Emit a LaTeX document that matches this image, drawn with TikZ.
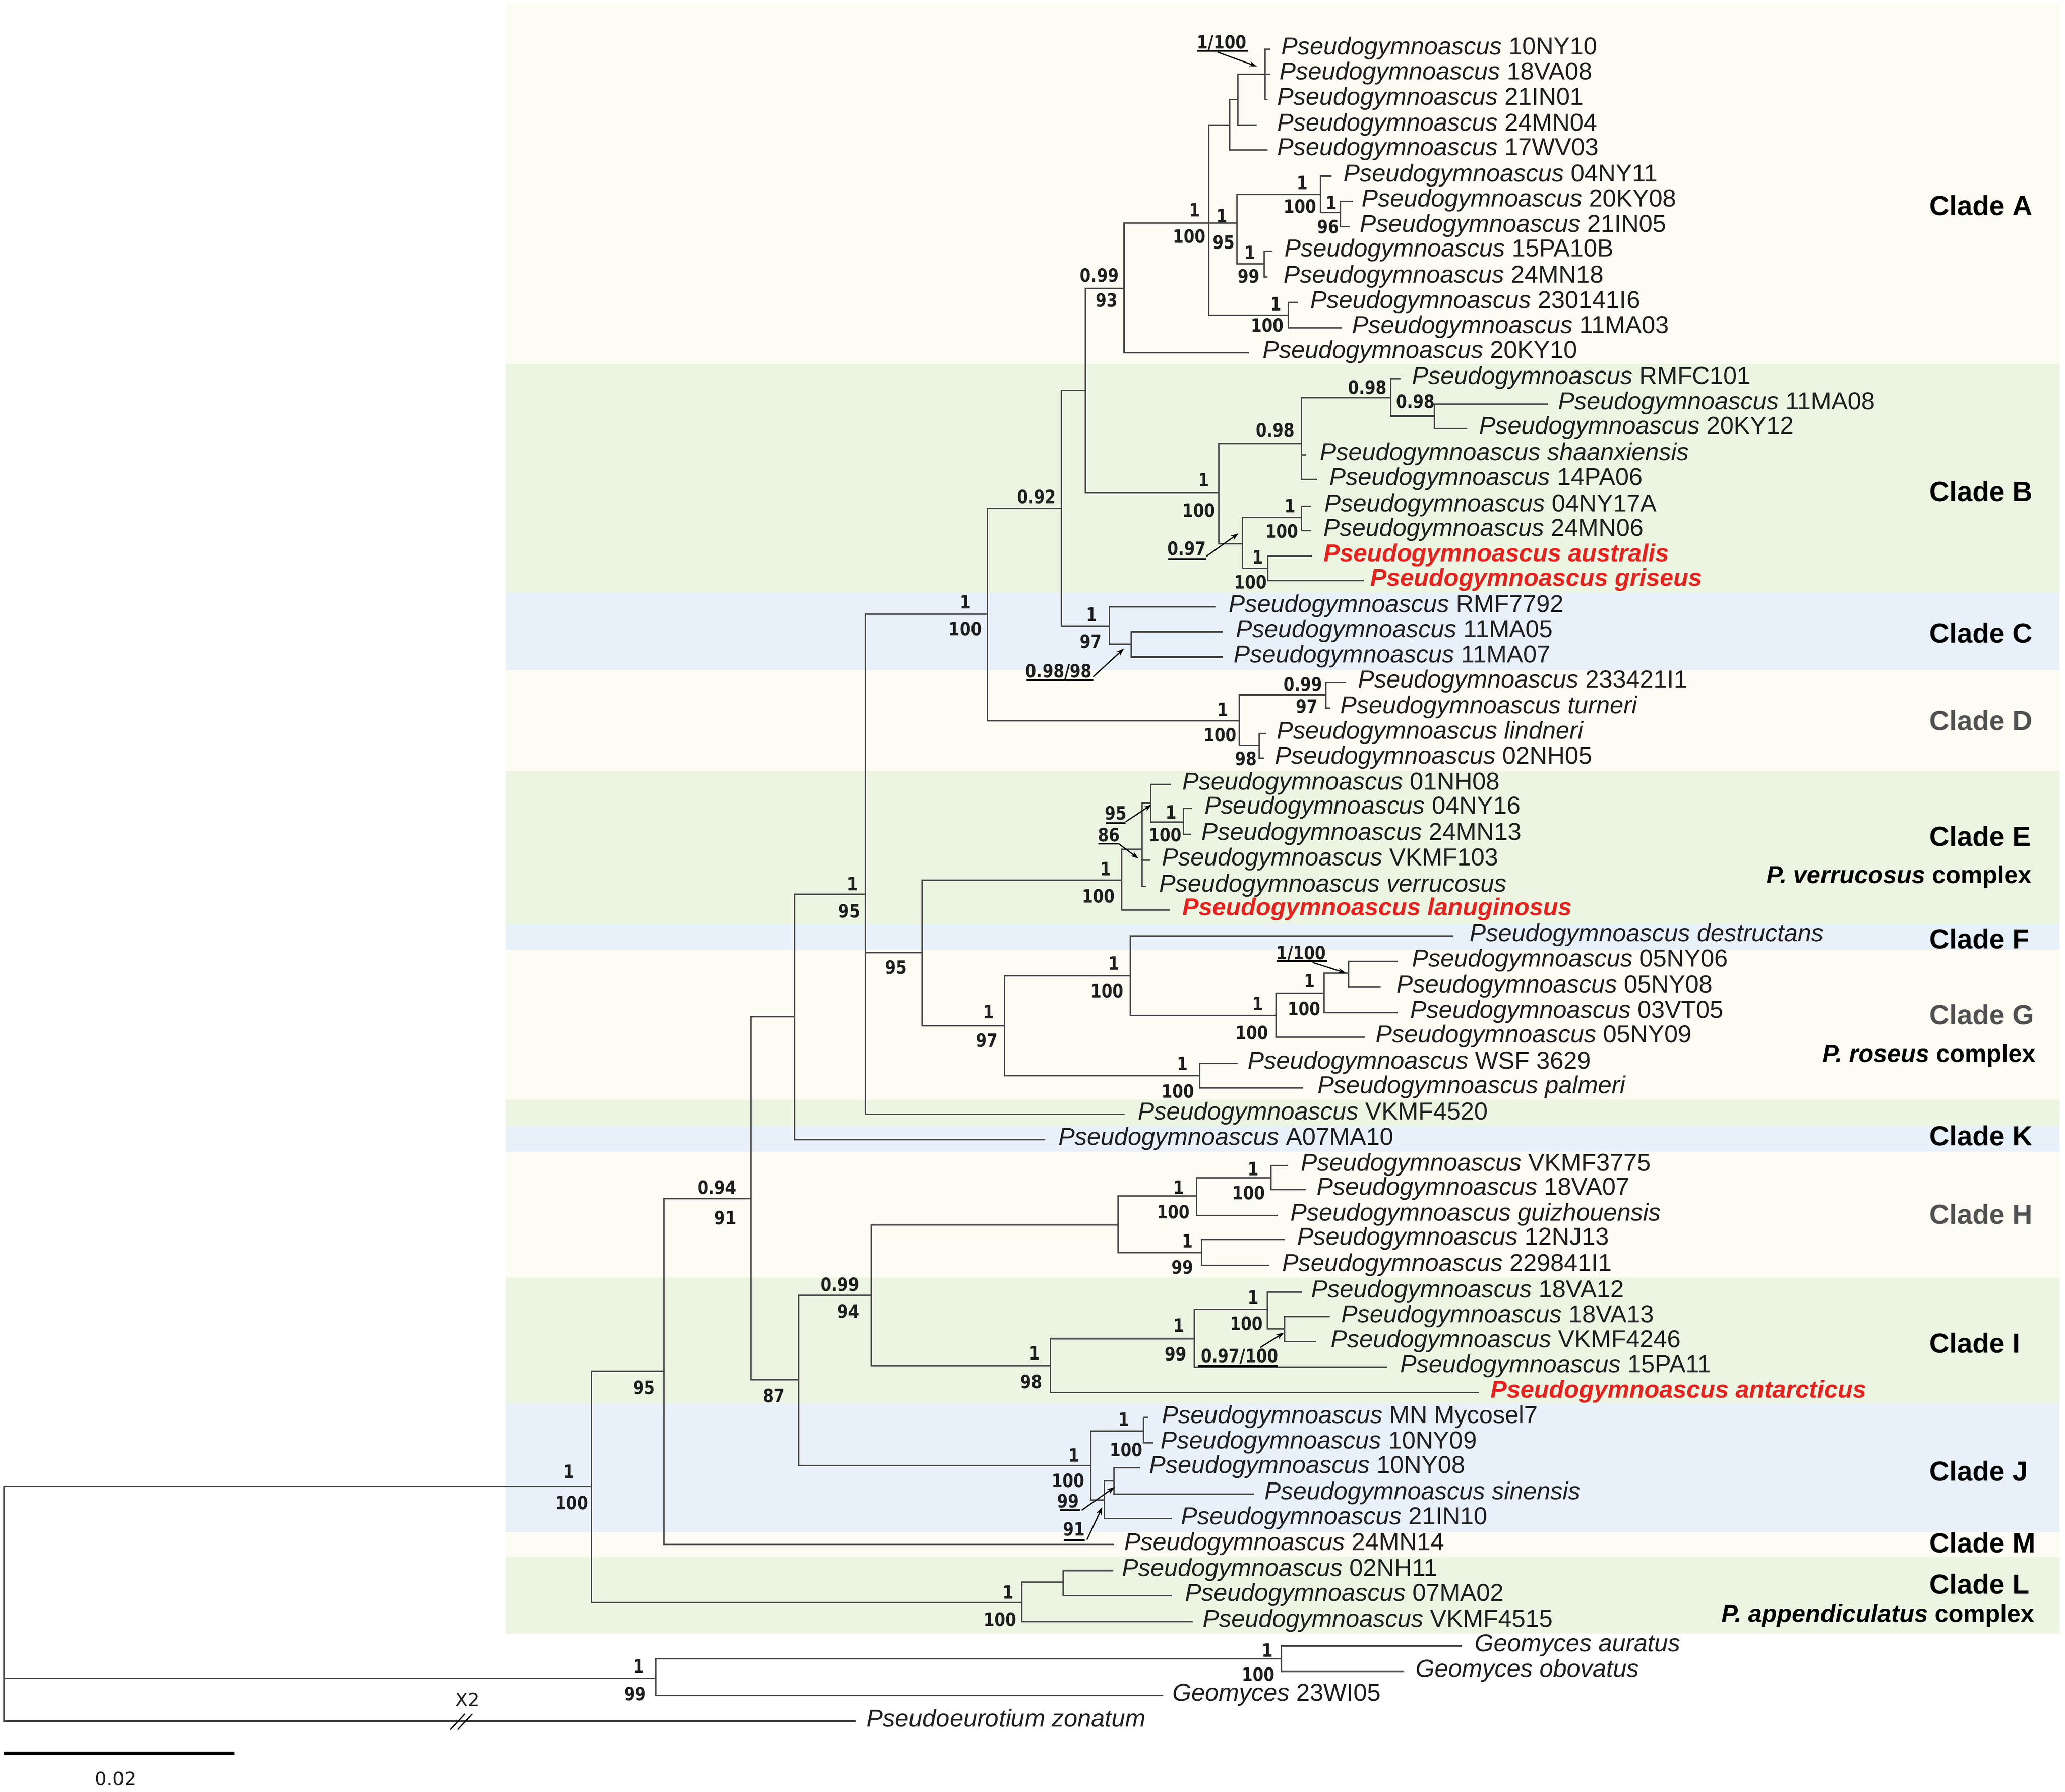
\documentclass[tikz,border=0pt]{standalone}
\usepackage{fontspec}
\setmainfont{Liberation Sans}
\newfontfamily\numfont[FakeStretch=0.85]{DejaVu Sans}
\newfontfamily\plainnum{DejaVu Sans}
\usetikzlibrary{arrows.meta}
\definecolor{bandcream}{RGB}{253,252,244}
\definecolor{bandgreen}{RGB}{236,245,226}
\definecolor{bandblue}{RGB}{232,240,250}
\definecolor{brcol}{RGB}{72,72,72}
\definecolor{txtcol}{RGB}{30,30,30}
\definecolor{newred}{RGB}{232,33,29}
\definecolor{cladegray}{RGB}{80,80,80}
\tikzset{
  br/.style={draw=brcol, line width=1.05pt},
  taxon/.style={inner sep=0pt, anchor=base west, font=\fontsize{18.6}{20}\selectfont, text=txtcol},
  newtaxon/.style={taxon, text=newred, font=\fontsize{18.6}{20}\selectfont\bfseries\itshape},
  supv/.style={inner sep=0pt, font=\numfont\bfseries\fontsize{14}{14}\selectfont, text=txtcol},
  cladelab/.style={inner sep=0pt, anchor=base west, font=\fontsize{21}{23}\selectfont\bfseries, text=black},
  complexlab/.style={inner sep=0pt, anchor=base east, font=\fontsize{18.6}{20}\selectfont\bfseries, text=black},
  uline/.style={draw=black, line width=1.3pt},
  pointer/.style={draw=black, line width=0.9pt, -{Stealth[length=6pt,width=4pt]}},
  scalebar/.style={draw=black, line width=2.5pt},
  scaletext/.style={inner sep=0pt, font=\plainnum\fontsize{14}{14}\selectfont, text=txtcol}
}
\newcommand\pg[1]{\textit{Pseudogymnoascus} #1}
\newcommand\tleaf[5]{\coordinate (#1) at (#2,#3);\node[taxon] (#1t) at (#4-1,#3+4.2) {#5};}
\newcommand\tleafred[5]{\coordinate (#1) at (#2,#3);\node[newtaxon] (#1t) at (#4-1,#3+4.2) {#5};}
\newcommand\tbr[2]{\draw[br] (#1) |- (#2);}
\newcommand\supv[4]{\node[supv] (#1) at (#2,#3) {#4};}
\newcommand\cladeat[4]{\node[cladelab,#4] (#1) at (1465,#2+7.5) {#3};}
\newcommand\band[3]{\fill[#3] (384,#1) rectangle (1564,#2);}
\begin{document}
\begin{tikzpicture}[x=1pt,y=-1pt]
\path[use as bounding box] (0,0) rectangle (1568,1360.55);
\fill[white] (0,0) rectangle (1568,1360.55);
% ---- background bands
\band{2}{276.5}{bandcream}
\band{276.5}{450}{bandgreen}
\band{450}{509}{bandblue}
\band{509}{585.5}{bandcream}
\band{585.5}{702}{bandgreen}
\band{702}{721.2}{bandblue}
\band{721.2}{835}{bandcream}
\band{835}{855}{bandgreen}
\band{855}{874.5}{bandblue}
\band{874.5}{970}{bandcream}
\band{970}{1065.8}{bandgreen}
\band{1065.8}{1163.5}{bandblue}
\band{1163.5}{1182.5}{bandcream}
\band{1182.5}{1240.5}{bandgreen}

% ---- internal nodes
\coordinate (R) at (3.1,1128.7);
\coordinate (N1) at (449.2,1128.7);
\coordinate (N95) at (504.5,1041.1);
\coordinate (N094) at (570.2,910.2);
\coordinate (N604) at (603.4,772.0);
\coordinate (N657) at (657.0,679.0);
\coordinate (N750) at (749.8,466.4);
\coordinate (N806) at (805.8,386.2);
\coordinate (N824) at (824.2,296.5);
\coordinate (NA) at (853.6,218.9);
\coordinate (NA1) at (917.9,169.4);
\coordinate (NA2) at (933.7,95.1);
\coordinate (NA5) at (940.0,75.7);
\coordinate (NA6) at (960.7,56.2);
\coordinate (NA3) at (939.3,169.4);
\coordinate (NA7) at (1002.6,147.8);
\coordinate (NA9) at (1017.8,161.6);
\coordinate (NA8) at (959.8,200.4);
\coordinate (NA4) at (978.2,239.3);
\coordinate (NB) at (925.3,374.5);
\coordinate (NB1) at (988.1,336.8);
\coordinate (NB3) at (1056.1,302.0);
\coordinate (NB4) at (1089.0,316.0);
\coordinate (NB2) at (943.3,413.1);
\coordinate (NB5) at (988.1,393.0);
\coordinate (NB6) at (962.7,431.7);
\coordinate (NC) at (842.4,475.3);
\coordinate (NC1) at (858.8,489.2);
\coordinate (ND) at (940.9,547.3);
\coordinate (ND1) at (1006.8,527.6);
\coordinate (ND2) at (956.3,566.1);
\coordinate (N700) at (700.1,723.5);
\coordinate (NE) at (851.7,668.3);
\coordinate (NE1) at (867.1,645.1);
\coordinate (NE2) at (873.7,609.7);
\coordinate (NE3) at (898.7,624.4);
\coordinate (NG) at (762.9,778.9);
\coordinate (NF) at (858.3,741.1);
\coordinate (NG1) at (969.0,770.9);
\coordinate (NG2) at (1005.5,754.3);
\coordinate (NG3) at (1024.0,739.1);
\coordinate (NG5) at (911.0,817.0);
\coordinate (N87) at (606.4,1047.9);
\coordinate (NHI) at (661.6,983.6);
\coordinate (NH) at (848.9,930.1);
\coordinate (NH1) at (908.5,908.3);
\coordinate (NH3) at (965.0,894.5);
\coordinate (NH2) at (912.2,951.2);
\coordinate (NI) at (797.7,1037.0);
\coordinate (NI1) at (906.9,1016.6);
\coordinate (NI2) at (962.3,994.4);
\coordinate (NI3) at (975.5,1009.2);
\coordinate (NJ) at (828.4,1113.0);
\coordinate (NJ1) at (868.4,1086.6);
\coordinate (NJ2) at (838.5,1139.2);
\coordinate (NJ3) at (846.0,1124.5);
\coordinate (NL) at (775.9,1217.0);
\coordinate (NL1) at (807.3,1201.6);
\coordinate (NGeo) at (498.1,1274.4);
\coordinate (NGeo1) at (972.9,1259.6);

% ---- leaves
\tleaf{a1}{964.7}{37.3}{973.9}{\pg{10NY10}}
\tleaf{a2}{964.7}{56.2}{972.3}{\pg{18VA08}}
\tleaf{a3}{962.4}{75.7}{970.6}{\pg{21IN01}}
\tleaf{a4}{954.2}{95.1}{970.6}{\pg{24MN04}}
\tleaf{a5}{962.4}{113.9}{970.6}{\pg{17WV03}}
\tleaf{a6}{1011.2}{133.7}{1021}{\pg{04NY11}}
\tleaf{a7}{1027.4}{152.8}{1034.9}{\pg{20KY08}}
\tleaf{a8}{1025.0}{172.1}{1033.3}{\pg{21IN05}}
\tleaf{a9}{966.3}{190.7}{976.2}{\pg{15PA10B}}
\tleaf{a10}{962.4}{210.5}{975.6}{\pg{24MN18}}
\tleaf{a11}{985.5}{229.8}{996}{\pg{230141I6}}
\tleaf{a12}{1019.1}{249.0}{1027.7}{\pg{11MA03}}
\tleaf{a13}{948.5}{268.0}{959.8}{\pg{20KY10}}
\tleaf{b1}{1063.6}{287.5}{1072.9}{\pg{RMFC101}}
\tleaf{b2}{1175.6}{306.8}{1183.9}{\pg{11MA08}}
\tleaf{b3}{1114.0}{325.4}{1124.1}{\pg{20KY12}}
\tleaf{b4}{991.8}{345.5}{1003.1}{\textit{Pseudogymnoascus shaanxiensis}}
\tleaf{b5}{1000.1}{364.2}{1010.5}{\pg{14PA06}}
\tleaf{b6}{995.6}{384.3}{1006.4}{\pg{04NY17A}}
\tleaf{b7}{995.6}{403.0}{1005.7}{\pg{24MN06}}
\tleafred{b8}{996.3}{422.3}{1005.7}{Pseudogymnoascus australis}
\tleafred{b9}{1035.5}{440.9}{1041.2}{Pseudogymnoascus griseus}
\tleaf{c1}{922.7}{461.0}{933.9}{\pg{RMF7792}}
\tleaf{c2}{928.3}{479.7}{939.5}{\pg{11MA05}}
\tleaf{c3}{928.3}{499.0}{937.7}{\pg{11MA07}}
\tleaf{d1}{1022.2}{518.0}{1031.9}{\pg{233421I1}}
\tleaf{d2}{1009.9}{537.6}{1018.7}{\textit{Pseudogymnoascus turneri}}
\tleaf{d3}{961.6}{556.9}{970.4}{\textit{Pseudogymnoascus lindneri}}
\tleaf{d4}{960.0}{575.8}{969.0}{\pg{02NH05}}
\tleaf{e1}{889.1}{595.7}{898.7}{\pg{01NH08}}
\tleaf{e2}{905.3}{614.0}{915.4}{\pg{04NY16}}
\tleaf{e3}{904.4}{633.7}{913.2}{\pg{24MN13}}
\tleaf{e4}{873.7}{653.3}{883.3}{\pg{VKMF103}}
\tleaf{e5}{870.2}{673.3}{881.2}{\textit{Pseudogymnoascus verrucosus}}
\tleafred{e6}{888.2}{691.1}{898.7}{Pseudogymnoascus lanuginosus}
\tleaf{f1}{1103.5}{710.8}{1116.9}{\textit{Pseudogymnoascus destructans}}
\tleaf{g1}{1061.3}{729.9}{1072.9}{\pg{05NY06}}
\tleaf{g2}{1048.2}{749.7}{1061.3}{\pg{05NY08}}
\tleaf{g3}{1061.3}{769.0}{1071.8}{\pg{03VT05}}
\tleaf{g4}{1036.3}{787.7}{1045.5}{\pg{05NY09}}
\tleaf{g5}{939.6}{807.6}{948.4}{\pg{WSF 3629}}
\tleaf{g6}{989.3}{826.3}{1001.3}{\textit{Pseudogymnoascus palmeri}}
\tleaf{k1}{853.9}{846.2}{864.9}{\pg{VKMF4520}}
\tleaf{k2}{793.7}{865.4}{804.7}{\pg{A07MA10}}
\tleaf{h1}{978.1}{885.1}{988.7}{\pg{VKMF3775}}
\tleaf{h2}{991.3}{903.4}{1000.8}{\pg{18VA07}}
\tleaf{h3}{970.2}{923.1}{980.8}{\textit{Pseudogymnoascus guizhouensis}}
\tleaf{h4}{975.5}{941.4}{986.0}{\pg{12NJ13}}
\tleaf{h5}{963.9}{961.1}{974.5}{\pg{229841I1}}
\tleaf{i1}{988.7}{981.1}{996.6}{\pg{18VA12}}
\tleaf{i2}{1009.8}{1000.0}{1019.3}{\pg{18VA13}}
\tleaf{i3}{999.2}{1019.0}{1011.4}{\pg{VKMF4246}}
\tleaf{i4}{1053.6}{1038.0}{1064.1}{\pg{15PA11}}
\tleafred{i5}{1123.2}{1057.4}{1132.7}{Pseudogymnoascus antarcticus}
\tleaf{j1}{871.9}{1076.5}{883.3}{\pg{MN Mycosel7}}
\tleaf{j2}{875.5}{1095.8}{882.3}{\pg{10NY09}}
\tleaf{j3}{865.5}{1114.7}{873.6}{\pg{10NY08}}
\tleaf{j4}{952.3}{1134.6}{961.1}{\textit{Pseudogymnoascus sinensis}}
\tleaf{j5}{889.7}{1153.4}{897.7}{\pg{21IN10}}
\tleaf{m1}{846.0}{1173.0}{854.6}{\pg{24MN14}}
\tleaf{l1}{845.4}{1192.7}{852.8}{\pg{02NH11}}
\tleaf{l2}{889.7}{1211.7}{900.8}{\pg{07MA02}}
\tleaf{l3}{905.7}{1231.4}{914.3}{\pg{VKMF4515}}
\tleaf{o1}{1110.0}{1249.9}{1120.6}{\textit{Geomyces auratus}}
\tleaf{o2}{1066.2}{1269.2}{1075.7}{\textit{Geomyces obovatus}}
\tleaf{o3}{883.2}{1287.7}{891.1}{\textit{Geomyces} 23WI05}
\tleaf{o4}{649.6}{1307.1}{659.0}{\textit{Pseudoeurotium zonatum}}

% ---- branches
\tbr{R}{N1} \tbr{R}{NGeo} \tbr{R}{o4}
\tbr{NGeo}{NGeo1} \tbr{NGeo}{o3}
\tbr{NGeo1}{o1} \tbr{NGeo1}{o2}
\tbr{N1}{N95} \tbr{N1}{NL}
\tbr{NL}{NL1} \tbr{NL}{l3}
\tbr{NL1}{l1} \tbr{NL1}{l2}
\tbr{N95}{N094} \tbr{N95}{m1}
\tbr{N094}{N604} \tbr{N094}{N87}
\tbr{N604}{N657} \tbr{N604}{k2}
\tbr{N657}{N750} \tbr{N657}{N700} \tbr{N657}{k1}
\tbr{N750}{N806} \tbr{N750}{ND}
\tbr{N806}{N824} \tbr{N806}{NC}
\tbr{N824}{NA} \tbr{N824}{NB}
\tbr{NA}{NA1} \tbr{NA}{a13}
\tbr{NA1}{NA2} \tbr{NA1}{NA3} \tbr{NA1}{NA4}
\tbr{NA2}{NA5} \tbr{NA2}{a5}
\tbr{NA5}{NA6} \tbr{NA5}{a4}
\tbr{NA6}{a1} \tbr{NA6}{a2} \tbr{NA6}{a3}
\tbr{NA3}{NA7} \tbr{NA3}{NA8}
\tbr{NA7}{a6} \tbr{NA7}{NA9}
\tbr{NA9}{a7} \tbr{NA9}{a8}
\tbr{NA8}{a9} \tbr{NA8}{a10}
\tbr{NA4}{a11} \tbr{NA4}{a12}
\tbr{NB}{NB1} \tbr{NB}{NB2}
\tbr{NB1}{NB3} \tbr{NB1}{b4} \tbr{NB1}{b5}
\tbr{NB3}{b1} \tbr{NB3}{NB4}
\tbr{NB4}{b2} \tbr{NB4}{b3}
\tbr{NB2}{NB5} \tbr{NB2}{NB6}
\tbr{NB5}{b6} \tbr{NB5}{b7}
\tbr{NB6}{b8} \tbr{NB6}{b9}
\tbr{NC}{c1} \tbr{NC}{NC1}
\tbr{NC1}{c2} \tbr{NC1}{c3}
\tbr{ND}{ND1} \tbr{ND}{ND2}
\tbr{ND1}{d1} \tbr{ND1}{d2}
\tbr{ND2}{d3} \tbr{ND2}{d4}
\tbr{N700}{NE} \tbr{N700}{NG}
\tbr{NE}{NE1} \tbr{NE}{e6}
\tbr{NE1}{NE2} \tbr{NE1}{e4} \tbr{NE1}{e5}
\tbr{NE2}{e1} \tbr{NE2}{NE3}
\tbr{NE3}{e2} \tbr{NE3}{e3}
\tbr{NG}{NF} \tbr{NG}{NG5}
\tbr{NF}{f1} \tbr{NF}{NG1}
\tbr{NG1}{NG2} \tbr{NG1}{g4}
\tbr{NG2}{NG3} \tbr{NG2}{g3}
\tbr{NG3}{g1} \tbr{NG3}{g2}
\tbr{NG5}{g5} \tbr{NG5}{g6}
\tbr{N87}{NHI} \tbr{N87}{NJ}
\tbr{NHI}{NH} \tbr{NHI}{NI}
\tbr{NH}{NH1} \tbr{NH}{NH2}
\tbr{NH1}{NH3} \tbr{NH1}{h3}
\tbr{NH3}{h1} \tbr{NH3}{h2}
\tbr{NH2}{h4} \tbr{NH2}{h5}
\tbr{NI}{NI1} \tbr{NI}{i5}
\tbr{NI1}{NI2} \tbr{NI1}{i4}
\tbr{NI2}{i1} \tbr{NI2}{NI3}
\tbr{NI3}{i2} \tbr{NI3}{i3}
\tbr{NJ}{NJ1} \tbr{NJ}{NJ2}
\tbr{NJ1}{j1} \tbr{NJ1}{j2}
\tbr{NJ2}{NJ3} \tbr{NJ2}{j5}
\tbr{NJ3}{j3} \tbr{NJ3}{j4}

% ---- support values
\supv{sA1a}{907.3}{159.5}{1} \supv{sA1b}{903.0}{179.3}{100}
\supv{sA3a}{927.8}{164.0}{1} \supv{sA3b}{929.4}{183.8}{95}
\supv{sA7a}{988.8}{138.8}{1} \supv{sA7b}{987.1}{156.8}{100}
\supv{sA9a}{1010.9}{154.1}{1} \supv{sA9b}{1008.6}{172.1}{96}
\supv{sA8a}{949.2}{191.9}{1} \supv{sA8b}{948.2}{209.9}{99}
\supv{sA4a}{969.0}{230.7}{1} \supv{sA4b}{962.4}{246.9}{100}
\supv{sAa}{834.8}{209.0}{0.99} \supv{sAb}{840.4}{228.0}{93}
\supv{sA6}{927.8}{32.4}{1/100}
\supv{sB3}{1038.2}{294.1}{0.98}
\supv{sB4}{1074.8}{304.9}{0.98}
\supv{sB1}{968.3}{326.5}{0.98}
\supv{sBa}{914.1}{364.5}{1} \supv{sBb}{910.4}{387.5}{100}
\supv{sB2}{901.1}{416.7}{0.97}
\supv{sB5a}{979.5}{384.3}{1} \supv{sB5b}{973.2}{403.3}{100}
\supv{sB6a}{955.2}{423.0}{1} \supv{sB6b}{949.6}{442.0}{100}
\supv{s806}{787.1}{377.2}{0.92}
\supv{s750a}{733.0}{457.1}{1} \supv{s750b}{733.0}{477.6}{100}
\supv{sCa}{829.0}{466.5}{1} \supv{sCb}{828.2}{487.1}{97}
\supv{sC1}{803.9}{510.1}{0.98/98}
\supv{sDa}{928.6}{539.0}{1} \supv{sDb}{926.4}{558.3}{100}
\supv{sD1a}{989.3}{519.7}{0.99} \supv{sD1b}{992.3}{536.6}{97}
\supv{sD2}{946.2}{576.1}{98}
\supv{s657a}{647.3}{671.1}{1} \supv{s657b}{645.1}{691.8}{95}
\supv{sEa}{839.8}{659.7}{1} \supv{sEb}{834.1}{680.4}{100}
\supv{sE3a}{889.1}{616.8}{1} \supv{sE3b}{884.7}{634.0}{100}
\supv{sE2}{847.3}{617.6}{95}
\supv{sE1}{842.0}{634.0}{86}
\supv{s700}{680.3}{734.6}{95}
\supv{sGa}{750.6}{768.4}{1} \supv{sGb}{749.3}{790.0}{97}
\supv{sFa}{846.0}{731.5}{1} \supv{sFb}{840.7}{752.4}{100}
\supv{sG1a}{955.0}{762.3}{1} \supv{sG1b}{950.6}{784.4}{100}
\supv{sG2a}{994.5}{745.0}{1} \supv{sG2b}{990.1}{766.0}{100}
\supv{sG3}{988.0}{724.1}{1/100}
\supv{sG5a}{897.8}{807.8}{1} \supv{sG5b}{894.3}{828.7}{100}
\supv{s094a}{544.5}{901.6}{0.94} \supv{s094b}{550.9}{924.8}{91}
\supv{s87}{587.8}{1059.8}{87}
\supv{sHIa}{637.9}{975.4}{0.99} \supv{sHIb}{644.2}{995.8}{94}
\supv{sH1a}{895.3}{901.6}{1} \supv{sH1b}{891.1}{920.3}{100}
\supv{sH3a}{951.8}{887.5}{1} \supv{sH3b}{948.1}{905.8}{100}
\supv{sH2a}{901.7}{942.4}{1} \supv{sH2b}{898.0}{962.5}{99}
\supv{sIa}{785.6}{1027.5}{1} \supv{sIb}{783.0}{1049.3}{98}
\supv{sI1a}{895.3}{1006.4}{1} \supv{sI1b}{892.7}{1028.2}{99}
\supv{sI2a}{951.8}{985.3}{1} \supv{sI2b}{946.5}{1005.0}{100}
\supv{sI3}{941.2}{1030.3}{0.97/100}
\supv{sJa}{815.6}{1105.0}{1} \supv{sJb}{811.0}{1124.5}{100}
\supv{sJ1a}{853.5}{1078.0}{1} \supv{sJ1b}{855.2}{1100.9}{100}
\supv{sJ3}{811.0}{1140.0}{99}
\supv{sJ2}{815.6}{1161.2}{91}
\supv{sLa}{765.4}{1209.0}{1} \supv{sLb}{759.3}{1229.9}{100}
\supv{s1a}{432.0}{1117.4}{1} \supv{s1b}{434.2}{1141.2}{100}
\supv{s95}{489.2}{1053.6}{95}
\supv{sOa}{484.9}{1265.3}{1} \supv{sOb}{482.3}{1286.3}{99}
\supv{sO1a}{962.3}{1253.3}{1} \supv{sO1b}{955.5}{1271.5}{100}

% ---- underlines and pointer arrows
\draw[uline] (909,38.7) -- (947.6,38.7);
\coordinate (pA6s) at (924.5,39.6); \coordinate (pA6e) at (954.5,50.5);
\draw[pointer] (pA6s) -- (pA6e);
\draw[uline] (886.9,424.6) -- (916.0,424.6);
\coordinate (pB2s) at (916.0,422.5); \coordinate (pB2e) at (940.5,405.0);
\draw[pointer] (pB2s) -- (pB2e);
\draw[uline] (779.6,516.4) -- (830.1,516.4);
\coordinate (pC1s) at (830.1,514.0); \coordinate (pC1e) at (853.5,492.5);
\draw[pointer] (pC1s) -- (pC1e);
\draw[uline] (839.8,625.1) -- (854.8,625.1);
\coordinate (pE2s) at (854.8,624.0); \coordinate (pE2e) at (874.5,611.0);
\draw[pointer] (pE2s) -- (pE2e);
\draw[uline] (834.1,640.8) -- (849.5,640.8);
\coordinate (pE1s) at (849.5,640.8); \coordinate (pE1e) at (864.5,652.0);
\draw[pointer] (pE1s) -- (pE1e);
\draw[uline] (969.5,730.0) -- (1007.7,730.0);
\coordinate (pG3s) at (996.7,730.9); \coordinate (pG3e) at (1022.0,739.0);
\draw[pointer] (pG3s) -- (pG3e);
\draw[uline] (909.6,1037.3) -- (970.2,1037.3);
\coordinate (pI3s) at (957.0,1023.3); \coordinate (pI3e) at (975.0,1012.0);
\draw[pointer] (pI3s) -- (pI3e);
\draw[uline] (804.7,1146.9) -- (820.2,1146.9);
\coordinate (pJ3s) at (821.3,1146.9); \coordinate (pJ3e) at (846.5,1129.2);
\draw[pointer] (pJ3s) -- (pJ3e);
\draw[uline] (807.9,1169.5) -- (823.6,1169.5);
\coordinate (pJ2s) at (825.3,1169.3); \coordinate (pJ2e) at (837.0,1144.5);
\draw[pointer] (pJ2s) -- (pJ2e);

% ---- clade labels
\cladeat{cA}{156}{Clade A}{}
\cladeat{cB}{373}{Clade B}{}
\cladeat{cC}{480.5}{Clade C}{}
\cladeat{cD}{547}{Clade D}{text=cladegray}
\cladeat{cE}{635}{Clade E}{}
\node[complexlab] (xE) at (1543,664+6.7) {\textit{P. verrucosus} complex};
\cladeat{cF}{713}{Clade F}{}
\cladeat{cG}{770.5}{Clade G}{text=cladegray}
\node[complexlab] (xG) at (1546,800+6.7) {\textit{P. roseus} complex};
\cladeat{cK}{862.5}{Clade K}{}
\cladeat{cH}{922}{Clade H}{text=cladegray}
\cladeat{cI}{1020}{Clade I}{}
\cladeat{cJ}{1117}{Clade J}{}
\cladeat{cM}{1171.5}{Clade M}{}
\cladeat{cL}{1203}{Clade L}{}
\node[complexlab] (xL) at (1545,1225+6.7) {\textit{P. appendiculatus} complex};

% ---- break mark and scale bar
\node[scaletext] (x2) at (355,1290.8) {X2};
\coordinate (bk1a) at (341.9,1313.6); \coordinate (bk1b) at (353.1,1301.6);
\coordinate (bk2a) at (347.5,1313.6); \coordinate (bk2b) at (358.7,1301.6);
\draw[draw=black, line width=0.9pt] (bk1a) -- (bk1b);
\draw[draw=black, line width=0.9pt] (bk2a) -- (bk2b);
\coordinate (sb1) at (3.1,1331.5); \coordinate (sb2) at (178,1331.5);
\draw[scalebar] (sb1) -- (sb2);
\node[scaletext] (sbt) at (87.9,1350.9) {0.02};
\end{tikzpicture}
\end{document}
